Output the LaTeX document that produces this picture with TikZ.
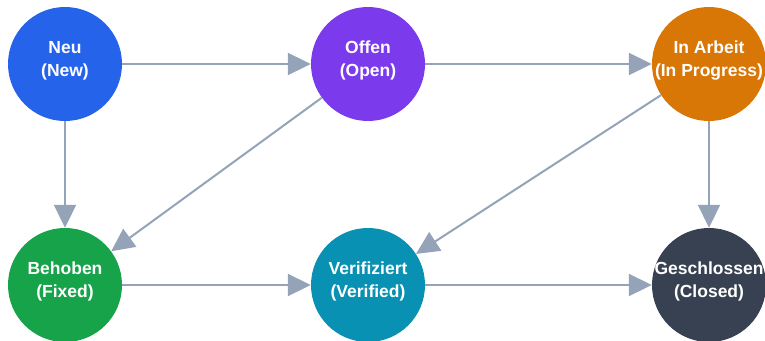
\documentclass[tikz,border=0pt]{standalone}
\usepackage{fontspec}
\setmainfont{Liberation Sans}
\usepackage{tikz}
\usetikzlibrary{arrows.meta}
\definecolor{st_new}{HTML}{2563EB}
\definecolor{st_open}{HTML}{7C3AED}
\definecolor{st_prog}{HTML}{D97706}
\definecolor{st_fixed}{HTML}{16A34A}
\definecolor{st_verif}{HTML}{0891B2}
\definecolor{st_closed}{HTML}{374151}
\definecolor{st_edge}{HTML}{94A3B8}
\tikzstyle{state}=[circle,draw=none,inner sep=0pt,minimum size=114pt]
\tikzstyle{caption}=[text=white,align=center,inner sep=0pt,yshift=3.5pt,
  font=\fontsize{17.5}{23}\selectfont\bfseries]
\tikzstyle{trans}=[draw=st_edge,line width=2pt,
  -{Triangle[length=23pt,width=22pt]}]

\begin{document}
\begin{tikzpicture}[x=1pt,y=-1pt]
    \useasboundingbox (0,0) rectangle (765,340);
    \node [style=state,fill=st_new,
      label={[style=caption]center:Neu\\(New)}] (new) at (65,64) {};
    \node [style=state,fill=st_open,
      label={[style=caption]center:Offen\\(Open)}] (open) at (368,64) {};
    \node [style=state,fill=st_prog,
      label={[style=caption]center:In Arbeit\\(In Progress)}] (prog) at (709,64) {};
    \node [style=state,fill=st_fixed,
      label={[style=caption]center:Behoben\\(Fixed)}] (fixed) at (65,285) {};
    \node [style=state,fill=st_verif,
      label={[style=caption]center:Verifiziert\\(Verified)}] (verif) at (368,285) {};
    \node [style=state,fill=st_closed,
      label={[style=caption]center:Geschlossen\\(Closed)}] (closed) at (709,285) {};
    \draw [style=trans] (new) to (open);
    \draw [style=trans] (open) to (prog);
    \draw [style=trans] (new) to (fixed);
    \draw [style=trans] (open) to (fixed);
    \draw [style=trans] (prog) to (verif);
    \draw [style=trans] (prog) to (closed);
    \draw [style=trans] (fixed) to (verif);
    \draw [style=trans] (verif) to (closed);
\end{tikzpicture}
\end{document}
